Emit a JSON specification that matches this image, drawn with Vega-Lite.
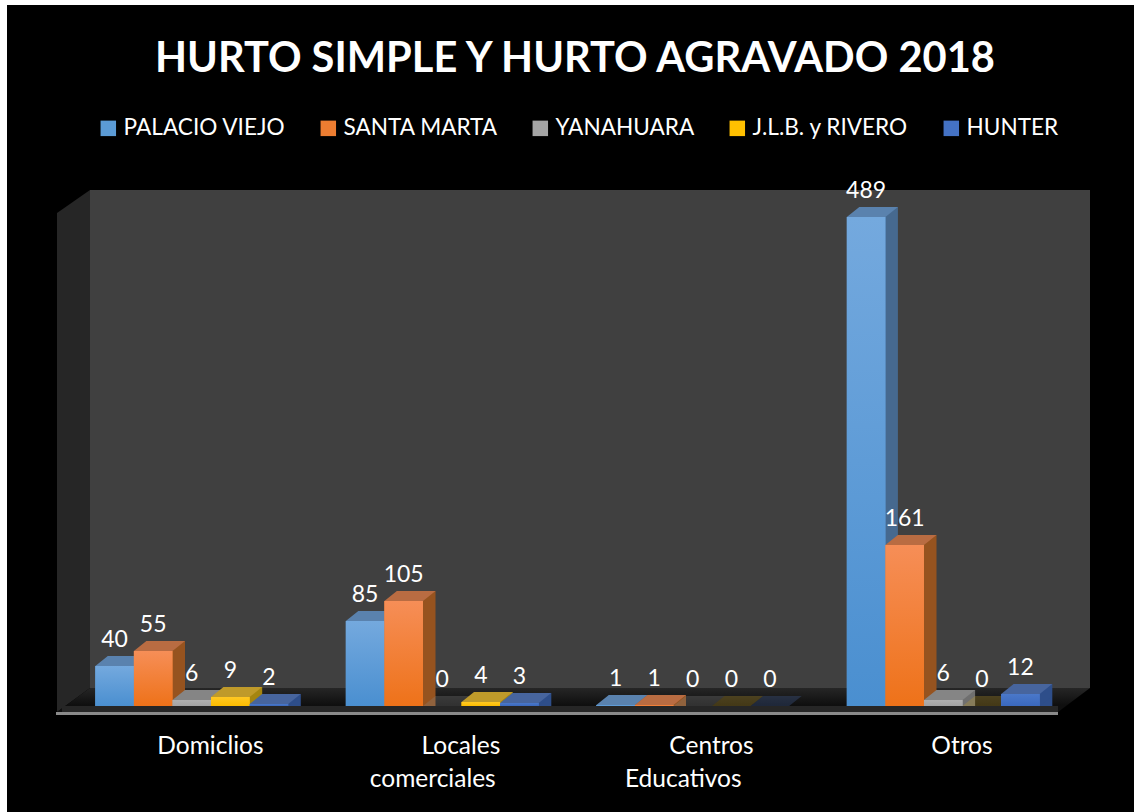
{"$schema":"https://vega.github.io/schema/vega-lite/v6.json","width":1134,"height":812,"padding":0,"autosize":{"type":"none"},"background":"white","config":{"view":{"stroke":null}},
"title":{"text":"HURTO SIMPLE Y HURTO AGRAVADO 2018","font":"Lato","fontSize":41.6,"fontWeight":"bold","color":"white","anchor":"middle","frame":"group","dx":8,"dy":114,"baseline":"alphabetic","offset":0},
"datasets":{"d":[
{"c":"Domiclios","s":"PALACIO VIEJO","v":40},{"c":"Domiclios","s":"SANTA MARTA","v":55},{"c":"Domiclios","s":"YANAHUARA","v":6},{"c":"Domiclios","s":"J.L.B. y RIVERO","v":9},{"c":"Domiclios","s":"HUNTER","v":2},
{"c":"Locales comerciales","s":"PALACIO VIEJO","v":85},{"c":"Locales comerciales","s":"SANTA MARTA","v":105},{"c":"Locales comerciales","s":"YANAHUARA","v":0},{"c":"Locales comerciales","s":"J.L.B. y RIVERO","v":4},{"c":"Locales comerciales","s":"HUNTER","v":3},
{"c":"Centros Educativos","s":"PALACIO VIEJO","v":1},{"c":"Centros Educativos","s":"SANTA MARTA","v":1},{"c":"Centros Educativos","s":"YANAHUARA","v":0},{"c":"Centros Educativos","s":"J.L.B. y RIVERO","v":0},{"c":"Centros Educativos","s":"HUNTER","v":0},
{"c":"Otros","s":"PALACIO VIEJO","v":489},{"c":"Otros","s":"SANTA MARTA","v":161},{"c":"Otros","s":"YANAHUARA","v":6},{"c":"Otros","s":"J.L.B. y RIVERO","v":0},{"c":"Otros","s":"HUNTER","v":12}]},
"resolve":{"scale":{"x":"independent"}},
"layer":[
{"encoding":{"x":{"field":"wx","type":"quantitative","axis":null,"scale":{"domain":[0,1134],"range":[0,1134]}},"y":{"field":"a","type":"quantitative","axis":null,"scale":{"domain":[0,706],"range":[706,0]}},"y2":{"field":"b"}},
"layer":[
{"data":{"values":[{"wx":7,"a":701,"b":-106},{"wx":1134,"a":701,"b":-106}]},"mark":{"type":"area","color":"#000000"}},
{"data":{"values":[{"wx":57,"a":493,"b":-6},{"wx":90,"a":516,"b":18}]},"mark":{"type":"area","color":"#262626"}},
{"data":{"values":[{"wx":90,"a":516,"b":18},{"wx":1090,"a":516,"b":18}]},"mark":{"type":"area","color":"#404040"}},
{"data":{"values":[{"wx":57,"a":-6,"b":-6},{"wx":90,"a":18,"b":-6},{"wx":1058,"a":18,"b":-6},{"wx":1090,"a":18,"b":18}]},"mark":{"type":"area","color":{"gradient":"linear","x1":0,"y1":0,"x2":0,"y2":1,"stops":[{"offset":0,"color":"#262626"},{"offset":0.7,"color":"#0f0f0f"},{"offset":1,"color":"#0f0f0f"}]}}},
{"data":{"values":[{"wx":62,"a":0,"b":-6},{"wx":1058,"a":0,"b":-6}]},"mark":{"type":"area","color":"#262626"}},
{"data":{"values":[{"wx":56,"a":-6,"b":-9},{"wx":1058,"a":-6,"b":-9}]},"mark":{"type":"area","color":"#8a8a8a"}}
]},
{"data":{"name":"d"},
"encoding":{"x":{"field":"c","type":"nominal","sort":["Domiclios","Locales comerciales","Centros Educativos","Otros"],"scale":{"domain":["Domiclios","Locales comerciales","Centros Educativos","Otros"],"range":[66.5,1068.5],"paddingInner":0.23,"paddingOuter":0.115},
"axis":{"title":null,"orient":"bottom","offset":-59,"ticks":false,"domain":false,"grid":false,"zindex":1,"labelAngle":0,"labelColor":"white","labelFont":"Lato","labelFontSize":24.5,"labelLineHeight":33,"labelBaseline":"alphabetic","labelPadding":0,"labelOffset":-9.5,"labelLimit":500,"labelOverlap":false,"labelFlush":false,"labelExpr":"datum.label == 'Locales comerciales' ? ['\u200b\u00a0\u00a0\u00a0\u00a0\u00a0\u00a0\u00a0\u00a0\u00a0Locales','comerciales'] : datum.label == 'Centros Educativos' ? ['\u200b\u00a0\u00a0\u00a0\u00a0\u00a0\u00a0\u00a0\u00a0\u00a0Centros','Educativos'] : '\u200b\u00a0\u00a0\u00a0\u00a0\u00a0\u00a0\u00a0\u00a0\u00a0' + datum.label"}},
"xOffset":{"field":"s","type":"nominal","sort":["PALACIO VIEJO","SANTA MARTA","YANAHUARA","J.L.B. y RIVERO","HUNTER"],"scale":{"domain":["PALACIO VIEJO","SANTA MARTA","YANAHUARA","J.L.B. y RIVERO","HUNTER"]}},
"y":{"field":"v","type":"quantitative","stack":null,"axis":null,"scale":{"domain":[0,706],"range":[706,0]}}},
"resolve":{"scale":{"color":"independent","xOffset":"independent"}},
"layer":[
{"transform":[{"filter":"datum.v > 0"}],"mark":{"type":"bar","yOffset":-10},"encoding":{"xOffset":{"field":"s","type":"nominal","sort":["PALACIO VIEJO","SANTA MARTA","YANAHUARA","J.L.B. y RIVERO","HUNTER"],"scale":{"domain":["PALACIO VIEJO","SANTA MARTA","YANAHUARA","J.L.B. y RIVERO","HUNTER"],"range":[12.5,205.5]}},"color":{"field":"s","type":"nominal","legend":null,"scale":{"domain":["PALACIO VIEJO","SANTA MARTA","YANAHUARA","J.L.B. y RIVERO","HUNTER"],"range":["#46698f","#96531f","#6f6f6f","#a58510","#2e4e8a"]}}}},
{"transform":[{"filter":"datum.v > 0"}],"mark":{"type":"point","filled":true,"opacity":1,"strokeWidth":0,"size":4096,"shape":"M0.603,0 L0.994,-0.3125 L0.603,-0.3125 Z"},"encoding":{"y":{"datum":0,"type":"quantitative"},"color":{"field":"s","type":"nominal","legend":null,"scale":{"domain":["PALACIO VIEJO","SANTA MARTA","YANAHUARA","J.L.B. y RIVERO","HUNTER"],"range":["#46698f","#96531f","#6f6f6f","#a58510","#2e4e8a"]}}}},
{"mark":{"type":"point","filled":true,"strokeWidth":0,"size":4096,"shape":"M-0.603,0 L0.603,0 L0.994,-0.3125 L-0.2125,-0.3125 Z"},"encoding":{"opacity":{"condition":{"test":"datum.v == 0","value":0.3},"value":1},"color":{"field":"s","type":"nominal","legend":null,"scale":{"domain":["PALACIO VIEJO","SANTA MARTA","YANAHUARA","J.L.B. y RIVERO","HUNTER"],"range":["#5a82ae","#b96c42","#858585","#bf9a2a","#47659e"]}}}},
{"mark":{"type":"bar"},"encoding":{"color":{"field":"s","type":"nominal","sort":["PALACIO VIEJO","SANTA MARTA","YANAHUARA","J.L.B. y RIVERO","HUNTER"],"scale":{"domain":["PALACIO VIEJO","SANTA MARTA","YANAHUARA","J.L.B. y RIVERO","HUNTER"],"range":["#5b9bd5","#ed7d31","#a5a5a5","#ffc000","#4472c4"]},"legend":{"orient":"none","legendX":97,"legendY":117,"direction":"horizontal","columns":5,"title":null,"symbolType":"square","symbolSize":240,"symbolStrokeWidth":0,"labelColor":"white","labelFont":"Lato","labelFontSize":22.6,"labelLimit":400,"columnPadding":31,"symbolOffset":0,"labelOffset":4}}}},
{"mark":{"type":"bar"},"encoding":{"color":{"condition":[
{"test":"datum.s == 'PALACIO VIEJO'","value":{"gradient":"linear","x1":0,"y1":0,"x2":0,"y2":1,"stops":[{"offset":0,"color":"#74a9de"},{"offset":1,"color":"#4a8fd0"}]}},
{"test":"datum.s == 'SANTA MARTA'","value":{"gradient":"linear","x1":0,"y1":0,"x2":0,"y2":1,"stops":[{"offset":0,"color":"#f68e57"},{"offset":1,"color":"#ee7219"}]}},
{"test":"datum.s == 'YANAHUARA'","value":{"gradient":"linear","x1":0,"y1":0,"x2":0,"y2":1,"stops":[{"offset":0,"color":"#b0b0b0"},{"offset":1,"color":"#a3a3a3"}]}},
{"test":"datum.s == 'J.L.B. y RIVERO'","value":{"gradient":"linear","x1":0,"y1":0,"x2":0,"y2":1,"stops":[{"offset":0,"color":"#ffc823"},{"offset":1,"color":"#fcbc00"}]}}
],"value":{"gradient":"linear","x1":0,"y1":0,"x2":0,"y2":1,"stops":[{"offset":0,"color":"#4a78ca"},{"offset":1,"color":"#3a68bd"}]}}}},
{"mark":{"type":"text","color":"white","font":"Lato","fontSize":23,"dy":-26,"baseline":"middle"},"encoding":{"text":{"field":"v","type":"quantitative"}}}
]}
]}
